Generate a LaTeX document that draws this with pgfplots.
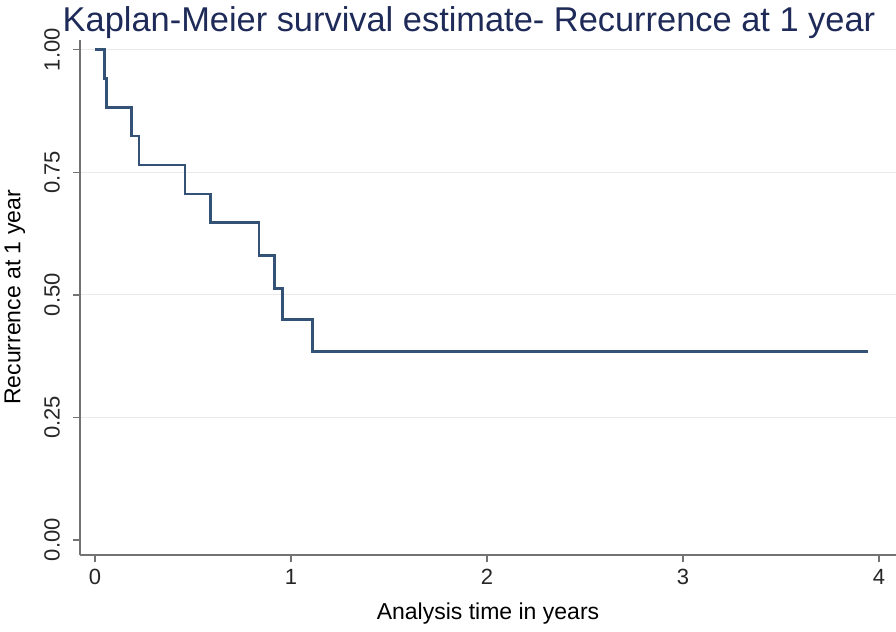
\documentclass[border=0pt]{standalone}
\usepackage{fontspec}
\setmainfont{Liberation Sans}
\usepackage{pgfplots}
\pgfplotsset{compat=1.18}
\definecolor{navyline}{RGB}{52,82,118}
\definecolor{titlecol}{RGB}{30,42,88}
\definecolor{axgray}{RGB}{115,115,115}
\definecolor{gridgray}{RGB}{234,234,234}
\begin{document}
\begin{tikzpicture}
\begin{axis}[name=ax, at={(0,0)}, anchor=south west,
  scale only axis, width=408pt, height=257.5pt,
  xmin=-0.076, xmax=4.087, ymin=-0.031, ymax=1.02,
  axis x line*=bottom, axis y line*=left,
  x axis line style={-, axgray, line width=1pt},
  y axis line style={-, axgray, line width=1pt},
  xtick={0,1,2,3,4}, ytick={0.25,0.5,0.75,1},
  extra y ticks={0}, extra y tick style={grid=none},
  /pgf/number format/assume math mode=true,
  yticklabel style={xshift=-3pt, rotate=90, anchor=south, /pgf/number format/.cd, fixed, fixed zerofill, precision=2},
  xticklabel style={anchor=north},
  ticklabel style={font=\fontsize{11}{13}\selectfont, text=black!85},
  tick align=outside, major tick length=3.5pt,
  tick style={axgray, line width=0.7pt},
  ymajorgrids, grid style={gridgray, line width=0.6pt},
  title={Kaplan-Meier survival estimate- Recurrence at 1 year},
  title style={at={(axis description cs:0.4767,1.0097)}, anchor=center, font=\fontsize{17.2}{20}\selectfont, text=titlecol},
  xlabel={Analysis time in years},
  xlabel style={at={(axis description cs:0.5,-0.1146)}, anchor=center, font=\fontsize{11.5}{14}\selectfont},
  ylabel={Recurrence at 1 year},
  ylabel style={at={(axis description cs:-0.0797,0.5)}, anchor=center, font=\fontsize{11.5}{14}\selectfont},
  clip=false,
]
\addplot[const plot, navyline, line width=1.3pt] coordinates {
  (0.00,1.000) (0.05,0.941) (0.06,0.882) (0.187,0.824) (0.226,0.765)
  (0.46,0.706) (0.59,0.647) (0.838,0.580) (0.915,0.513) (0.957,0.449)
  (1.11,0.384) (3.945,0.384)
};
\end{axis}
\pgfresetboundingbox
\path (ax.south west) ++(-40pt,-38pt) rectangle ([xshift=0pt,yshift=277.5pt]ax.south east);
\end{tikzpicture}
\end{document}
